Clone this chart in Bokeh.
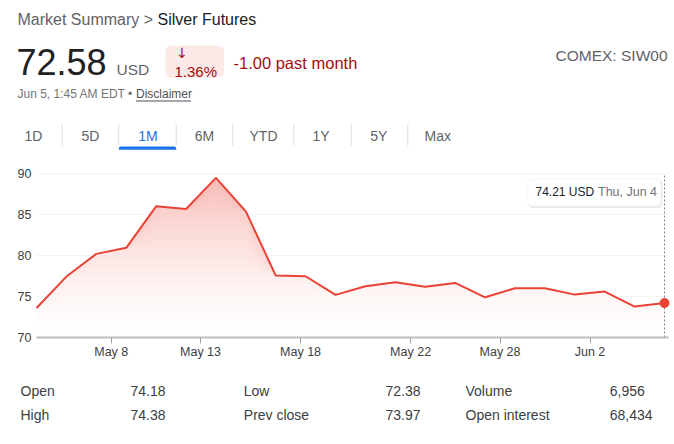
from bokeh.plotting import figure
from bokeh.layouts import column
from bokeh.models import Range1d, Label, BoxAnnotation, FixedTicker
from bokeh.core.properties import value
from bokeh.embed import file_html
from bokeh.resources import INLINE

# ---------------- data ----------------
dates = ["May 5", "May 6", "May 7", "May 8", "May 11", "May 12", "May 13", "May 14",
         "May 15", "May 18", "May 19", "May 20", "May 21", "May 22", "May 26", "May 27",
         "May 28", "May 29", "Jun 1", "Jun 2", "Jun 3", "Jun 4"]
prices = [73.6, 77.43, 80.2, 80.94, 86.0, 85.67, 89.46, 85.39, 77.55, 77.47, 75.2, 76.24,
          76.73, 76.2, 76.66, 74.9, 76.0, 76.0, 75.23, 75.6, 73.77, 74.21]
tick_positions = [2.5, 5.485, 8.83, 12.51, 15.5, 18.51]
tick_labels = ["May 8", "May 13", "May 18", "May 22", "May 28", "Jun 2"]
y_ticks = [70, 75, 80, 85, 90]
last_weekday = "Thu"

title_left = "Market Summary > "
title_right = "Silver Futures"
price_now = "72.58"
currency = "USD"
pct_change = "1.36%"
abs_change = "-1.00 past month"
exchange = "COMEX: SIW00"
timestamp = "Jun 5, 1:45 AM EDT \u2022 "
disclaimer = "Disclaimer"
tabs = ["1D", "5D", "1M", "6M", "YTD", "1Y", "5Y", "Max"]
active_tab = "1M"
stat_names = [["Open", "High"], ["Low", "Prev close"], ["Volume", "Open interest"]]
stat_values = [["74.18", "74.38"], ["72.38", "73.97"], ["6,956", "68,434"]]

# ---------------- style / layout (page pixels) ----------------
FONT = "Liberation Sans"
RED = (234, 67, 53)
RED_HEX = "#ea4335"
DARKRED = "#a50e0e"
W, H = 674, 444
CH_H = 366            # height of top figure (header + chart + x axis)
ST_H = H - CH_H       # height of stats figure
X0_PX, XN_PX = 36, 664  # page x of first / last point
Y70_PX, Y90_PX = 337, 173

idx = list(range(len(prices)))
n_last = idx[-1]
px_x = (XN_PX - X0_PX) / n_last
px_y = (Y70_PX - Y90_PX) / (y_ticks[-1] - y_ticks[0])
frame_bottom = Y70_PX

x_rng = Range1d(-X0_PX / px_x, (W - X0_PX) / px_x)
y_rng = Range1d(y_ticks[0], y_ticks[0] + frame_bottom / px_y)

p = figure(width=W, height=CH_H, x_range=x_rng, y_range=y_rng,
           toolbar_location=None, output_backend="svg", y_axis_location=None,
           min_border_left=0, min_border_right=0, min_border_top=0,
           min_border_bottom=CH_H - frame_bottom)
p.outline_line_color = None
p.background_fill_color = "white"
p.border_fill_color = "white"
p.grid.visible = False
p.extra_x_ranges = {"px": Range1d(0, W)}
p.extra_y_ranges = {"py": Range1d(H - frame_bottom, H)}

st = figure(width=W, height=ST_H, x_range=Range1d(0, W), y_range=Range1d(0, ST_H),
            toolbar_location=None, output_backend="svg",
            x_axis_location=None, y_axis_location=None,
            min_border_left=0, min_border_right=0, min_border_top=0, min_border_bottom=0)
st.outline_line_color = None
st.background_fill_color = "white"
st.border_fill_color = "white"
st.grid.visible = False


def lab(text, x, y, size, color, align="left", font=FONT):
    p.add_layout(Label(x=x, y=H - y, x_range_name="px", y_range_name="py", text=text,
                       text_font=font, text_font_size=f"{size}px", text_color=color,
                       text_align=align, text_baseline="middle"))


def box(x0, x1, y0, y1, color, radius=0):
    p.add_layout(BoxAnnotation(left=x0, right=x1, top=H - y0, bottom=H - y1,
                               x_range_name="px", y_range_name="py",
                               fill_color=color, fill_alpha=1, line_color=None,
                               border_radius=radius))


# ---------------- header ----------------
lab(title_left, 17, 18.7, 16, "#5f6368")
lab(title_right, 157, 18.7, 16, "#202124")
lab(price_now, 16, 61, 36, "#202124")
lab(currency, 116, 68.7, 15.5, "#5f6368")
box(165, 223.5, 45, 77.3, "#fce8e6", 6)
lab("\u2193", 181.7, 52, 14, DARKRED, align="center", font="DejaVu Sans")
lab(pct_change, 174, 71.3, 15, DARKRED)
lab(abs_change, 233, 62, 16.5, DARKRED)
lab(exchange, 667, 54.7, 15.5, "#5f6368", align="right")
lab(timestamp, 17, 93.8, 12, "#70757a")
lab(disclaimer, 135.5, 93.8, 12, "#4d5156")
box(135.5, 190.5, 100, 101, "#4d5156")

tab_centers = [33, 90, 147.5, 204, 263, 320.5, 378.3, 437.3]
sep_x = [61.7, 118.3, 175.7, 232.3, 293.3, 350.7, 407.3]
for t, cx in zip(tabs, tab_centers):
    lab(t, cx, 135.3, 14, "#1a73e8" if t == active_tab else "#5f6368", align="center")
for sx in sep_x:
    box(sx - 0.5, sx + 0.5, 124, 145, "#dadce0")
ai = tabs.index(active_tab)
box(sep_x[ai - 1], sep_x[ai], 146, 149.3, "#1a73e8", (2, 2, 0, 0))

# ---------------- chart ----------------
x_line_end = n_last + 4 / px_x
p.segment(x0=[0] * (len(y_ticks) - 1), y0=y_ticks[1:], x1=[x_line_end] * (len(y_ticks) - 1),
          y1=y_ticks[1:], line_color="#f1f3f4", line_width=1)


def fill_color(level):
    a = 0.37 * ((level - 70) / 20.0) ** 1.5
    r, g, b = (round(255 - a * (255 - c)) for c in RED)
    return f"#{r:02x}{g:02x}{b:02x}"


levels = [70 + 0.5 * k for k in range(0, 40)]
for L in levels:
    p.varea(x=idx, y1=[min(v, L) for v in prices], y2=prices,
            fill_color=fill_color(L + 0.25), fill_alpha=1)

p.line(x=idx, y=prices, line_color=RED_HEX, line_width=2)
p.segment(x0=[n_last], y0=[y_ticks[0]], x1=[n_last], y1=[y_ticks[-1]],
          line_color="#80868b", line_dash="2 2", line_width=1)
p.scatter(x=[n_last], y=[prices[-1]], size=9, fill_color=RED_HEX, line_color=RED_HEX)

# y tick labels (through the price scale); overlay level so the lowest is not clipped
p.text(x=[31] * len(y_ticks), y=y_ticks, text=[str(t) for t in y_ticks], x_range_name="px",
       text_font=value(FONT), text_font_size=value("12.5px"), text_color="#3c4043",
       text_align="right", text_baseline="middle", level="overlay")

# tooltip anchored at the last point / top of the chart
top = y_ticks[-1]
box_l = n_last - (664 - 527.3) / px_x
box_r = n_last - (664 - 660.5) / px_x
box_t = top - (178.3 - Y90_PX) / px_y
box_b = top - (205.5 - Y90_PX) / px_y
p.add_layout(BoxAnnotation(left=box_l + 1 / px_x, right=box_r + 1.5 / px_x,
                           top=box_t - 1 / px_y, bottom=box_b - 2 / px_y,
                           fill_color="black", fill_alpha=0.08, line_color=None,
                           border_radius=4))
p.add_layout(BoxAnnotation(left=box_l, right=box_r, top=box_t, bottom=box_b,
                           fill_color="white", fill_alpha=1, line_color="#e0e0e0",
                           line_width=1, border_radius=4))
p.add_layout(Label(x=n_last, y=top, x_offset=535 - 664, y_offset=-(191.7 - Y90_PX),
                   text=f"{prices[-1]:.2f} {currency}", text_font=FONT,
                   text_font_size="12px", text_color="#202124", text_baseline="middle"))
p.add_layout(Label(x=n_last, y=top, x_offset=597.5 - 664, y_offset=-(191.7 - Y90_PX),
                   text=f"{last_weekday}, {dates[-1]}", text_font=FONT,
                   text_font_size="12.5px", text_color="#70757a", text_baseline="middle"))

# x axis
p.xaxis.ticker = FixedTicker(ticks=tick_positions)
p.xaxis.major_label_overrides = {t: l for t, l in zip(tick_positions, tick_labels)}
p.xaxis.bounds = (0, x_line_end)
p.xaxis.axis_line_color = "#bdbdbd"
p.xaxis.axis_line_width = 2
p.xaxis.major_tick_line_color = "#9e9e9e"
p.xaxis.major_tick_out = 6
p.xaxis.major_tick_in = 0
p.xaxis.minor_tick_line_color = None
p.xaxis.major_label_standoff = 1
p.xaxis.major_label_text_font = FONT
p.xaxis.major_label_text_font_size = "12.5px"
p.xaxis.major_label_text_color = "#3c4043"

# ---------------- stats ----------------
name_x = [20, 243.3, 465]
value_x = [130, 385, 609.3]
row_y = [390.8, 414.2]
for c in range(3):
    for r in range(2):
        for txt, xx in ((stat_names[c][r], name_x[c]), (stat_values[c][r], value_x[c])):
            st.add_layout(Label(x=xx, y=H - row_y[r], text=txt, text_font=FONT,
                                text_font_size="14px", text_color="#3c4043",
                                text_baseline="middle"))

layout = column(p, st, spacing=0)
open("out.html", "w").write(file_html(layout, INLINE))
